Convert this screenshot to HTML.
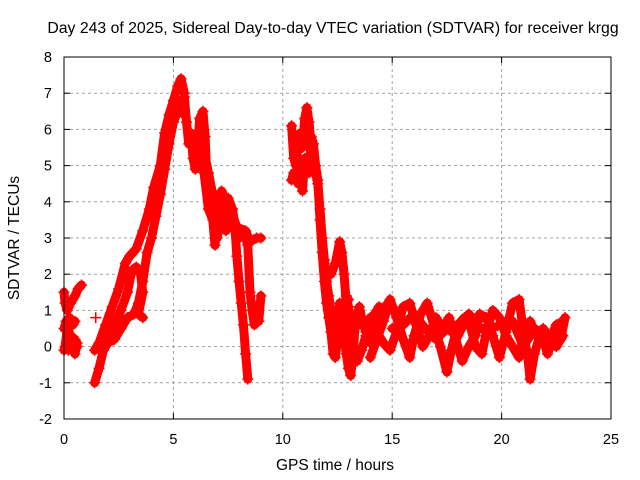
<!DOCTYPE html>
<html><head><meta charset="utf-8"><style>
body{margin:0;background:#fff;}
svg{display:block;font-family:"Liberation Sans",sans-serif;}
</style></head><body>
<svg id="chart" width="640" height="480" viewBox="0 0 640 480">
<rect width="640" height="480" fill="#fff"/>
<text x="333" y="33" font-size="15.8" text-anchor="middle" fill="#000">Day 243 of 2025, Sidereal Day-to-day VTEC variation (SDTVAR) for receiver krgg</text>
<g id="grid"></g>
<g id="axes"></g>
<g id="series"></g>
<rect x="64" y="57" width="547" height="362" fill="none" stroke="#000" stroke-width="1"/>
<text transform="translate(19,238) rotate(-90)" font-size="15.5" text-anchor="middle">SDTVAR / TECUs</text>
<text x="335" y="470" font-size="15.5" text-anchor="middle">GPS time / hours</text>
</svg>
<script>
const xTicks=[0,5,10,15,20,25];
const yTicks=[-2,-1,0,1,2,3,4,5,6,7,8];
const traceA1=[[0,1.5],[0.05,1.2],[0.15,1.0],[0.3,1.2],[0.5,1.4],[0.65,1.6],[0.8,1.7]];
const traceA2=[[0,0.5],[0.1,0.7],[0.25,0.8],[0.4,0.6],[0.5,0.7]];
const traceA3=[[0,-0.1],[0.1,0.1],[0.2,-0.1],[0.3,0.2],[0.4,0.1],[0.5,-0.2],[0.6,0.1]];
const traceA4=[[0.05,0],[0.15,0.5],[0.3,0.3],[0.5,0.2],[0.6,0.0]];
const traceB1=[[1.4,-0.1],[1.6,0.1],[1.9,0.6],[2.2,1.1],[2.5,1.6],[2.8,2.3],[3.0,2.5],[3.3,2.7],[3.6,3.2],[3.9,3.8],[4.1,4.4],[4.4,5.0],[4.6,5.9],[4.8,6.4],[5.0,6.8],[5.2,7.2],[5.35,7.4],[5.5,7.0]];
const traceB2=[[1.4,-1.0],[1.6,-0.6],[1.8,-0.1],[2.0,0.1],[2.3,0.2],[2.6,0.5],[2.9,0.8],[3.2,0.9],[3.4,1.2],[3.6,1.8],[3.8,2.6],[4.0,3.0],[4.2,3.6],[4.4,4.2],[4.6,4.9],[4.8,5.6],[5.0,6.2],[5.2,6.5],[5.4,6.8],[5.5,6.4]];
const traceB3=[[2.0,0.2],[2.3,0.6],[2.6,1.0],[2.9,1.5],[3.1,2.1],[3.3,2.2],[3.5,2.0],[3.6,1.5],[3.4,0.9],[3.6,0.8]];
const traceB4=[[1.45,0.8]];
const traceC1=[[5.5,6.9],[5.6,6.2],[5.7,5.6],[5.8,5.9],[5.9,5.2],[6.0,4.9],[6.1,5.5],[6.2,6.3],[6.35,6.5],[6.45,5.8],[6.5,5.0],[6.6,4.5],[6.7,4.2],[6.9,3.5],[7.0,3.0],[7.1,3.4],[7.3,4.0],[7.5,4.1],[7.7,3.8],[7.8,3.4],[7.9,2.5],[8.0,1.8],[8.1,1.2],[8.2,0.6],[8.3,-0.2],[8.4,-0.9]];
const traceC2=[[6.2,5.5],[6.4,4.8],[6.6,3.8],[6.8,3.5],[6.9,2.8],[7.0,3.5],[7.2,4.3],[7.4,4.0],[7.6,3.6],[7.8,3.2],[8.0,3.0],[8.2,3.2],[8.4,2.8],[8.5,1.5],[8.6,1.0],[8.7,0.6],[8.8,1.1],[8.9,0.7],[9.0,1.4]];
const traceC3=[[6.4,5.4],[6.6,4.8],[6.8,4.2],[7.0,3.9],[7.2,3.5],[7.4,3.2],[7.6,3.8],[7.9,3.3],[8.3,3.2],[8.5,2.9],[8.8,3.0],[9.0,3.0]];
const traceD1=[[10.4,6.1],[10.5,5.2],[10.6,5.0],[10.7,5.6],[10.8,5.9],[10.9,5.5],[11.0,6.3],[11.1,6.6],[11.2,6.2],[11.3,5.5],[11.4,5.0],[11.5,4.8],[11.6,4.5],[11.7,3.8],[11.8,3.0],[11.9,2.4],[12.0,1.8],[12.1,1.4],[12.2,1.0],[12.3,0.6],[12.4,0.3],[12.5,0.5],[12.6,1.2],[12.7,1.0],[12.8,0.3],[12.9,-0.2],[13.0,-0.6],[13.1,-0.8],[13.2,-0.3],[13.3,0.5],[13.4,0.9],[13.5,1.1],[13.6,0.8],[13.8,0.4],[14.0,0.1],[14.2,0.4],[14.5,0.9],[14.8,1.2]];
const traceD2=[[10.4,4.6],[10.5,4.8],[10.7,4.5],[10.8,4.9],[10.9,4.3],[11.0,5.2],[11.2,4.8],[11.3,5.8],[11.4,5.6],[11.5,5.0],[11.6,4.6],[11.7,3.5],[11.8,2.6],[11.9,1.8],[12.0,1.2],[12.1,0.8],[12.2,0.4],[12.3,-0.2],[12.4,-0.3],[12.5,0.2],[12.6,0.3],[12.7,0.6],[12.8,0.9],[12.9,1.4],[13.0,1.1],[13.1,0.5],[13.2,0.0],[13.4,-0.4],[13.6,-0.1],[13.8,0.3],[14.0,0.6],[14.2,0.9],[14.4,1.1]];
const traceD3=[[12.2,2.0],[12.4,2.3],[12.6,2.9],[12.7,2.6],[12.8,2.0],[12.9,1.2],[13.0,1.3]];
const traceE1=[[14.0,-0.3],[14.3,0.2],[14.6,0.7],[14.9,1.3],[15.2,0.8],[15.5,0.2],[15.8,-0.3],[16.0,0.3],[16.3,0.9],[16.6,1.2],[16.9,0.6],[17.2,0],[17.5,-0.7],[17.7,-0.1],[18.0,0.6],[18.3,0.8],[18.6,0.5],[18.8,0.0],[19.1,-0.2],[19.3,0.4],[19.6,1.0],[19.9,0.8],[20.2,0.3],[20.5,0.0],[20.8,-0.3],[21.0,0.3],[21.3,0.7],[21.6,0.3],[21.9,0.5],[22.2,0.2],[22.5,0.6],[22.8,0.7]];
const traceE2=[[14.0,0.8],[14.3,0.4],[14.6,0.1],[14.9,-0.1],[15.2,0.4],[15.5,1.1],[15.8,1.2],[16.1,0.6],[16.4,0.0],[16.7,0.3],[17.0,0.8],[17.3,0.5],[17.6,0.8],[17.9,0.2],[18.2,-0.4],[18.5,0.0],[18.8,0.3],[19.0,0.9],[19.3,0.8],[19.6,0.3],[19.9,-0.3],[20.2,0.4],[20.5,1.2],[20.8,1.3],[21.0,0.4],[21.2,-0.3],[21.3,-0.9],[21.5,-0.2],[21.8,0.4],[22.1,-0.2],[22.4,0.3],[22.7,0.2],[22.9,0.8]];
const traceE3=[[15.0,0.5],[15.5,0.6],[16.0,0.9],[16.5,0.5],[17.0,0.2],[17.5,0.5],[18.0,0.3],[18.5,0.9],[19.0,0.5],[19.5,0.5],[20,0.6],[20.5,0.7],[21,0.0],[21.5,0.5],[22,0.3],[22.5,0.0],[22.8,0.3]];
const traces=[traceA1,traceA2,traceA3,traceA4,traceB1,traceB2,traceB3,traceB4,traceC1,traceC2,traceC3,traceD1,traceD2,traceD3,traceE1,traceE2,traceE3];

const X0=64,X1=611,Y0=419,Y1=57;
function xs(t){return X0+(t-0)/(25-0)*(X1-X0);}
function ys(v){return Y0-(v+2)/(8+2)*(Y0-Y1);}
const NS='http://www.w3.org/2000/svg';
const grid=document.getElementById('grid'),axes=document.getElementById('axes'),ser=document.getElementById('series');
function mk(tag,attrs,parent){const e=document.createElementNS(NS,tag);for(const k in attrs)e.setAttribute(k,attrs[k]);parent.appendChild(e);return e;}
xTicks.forEach(t=>{
  const x=xs(t);
  if(t>0&&t<25){const g=mk('line',{x1:x,x2:x,y1:Y1,y2:Y0,stroke:'#a0a0a0','stroke-dasharray':'3,3'},grid);
  
  }
  mk('line',{x1:x,x2:x,y1:Y0,y2:Y0-6,stroke:'#000'},axes);
  mk('line',{x1:x,x2:x,y1:Y1,y2:Y1+6,stroke:'#000'},axes);
  const l=mk('text',{x:x,y:Y0+25,'font-size':14.5,'text-anchor':'middle'},axes);l.textContent=t;
  
  
});
yTicks.forEach(v=>{
  const y=ys(v);
  if(v>-2&&v<8){const g=mk('line',{x1:X0,x2:X1,y1:y,y2:y,stroke:'#a0a0a0','stroke-dasharray':'3,3'},grid);
  
  }
  mk('line',{x1:X0,x2:X0+6,y1:y,y2:y,stroke:'#000'},axes);
  mk('line',{x1:X1,x2:X1-6,y1:y,y2:y,stroke:'#000'},axes);
  const l=mk('text',{x:X0-12,y:y+5,'font-size':14.5,'text-anchor':'end'},axes);l.textContent=v;
  
  
});
traces.forEach(tr=>{
  if(tr.length>1){
    const p=mk('polyline',{points:tr.map(d=>xs(d[0])+','+ys(d[1])).join(' '),fill:'none',stroke:'#f00','stroke-width':9,'stroke-linejoin':'round','stroke-linecap':'round'},ser);
    
    
  }
  tr.forEach(d=>{
    const x=xs(d[0]),y=ys(d[1]);
    const m=mk('path',{d:`M${x-5.5},${y}h11M${x},${y-5.5}v11`,stroke:'#f00','stroke-width':1.5},ser);
    
    
  });
});
</script>
</body></html>
